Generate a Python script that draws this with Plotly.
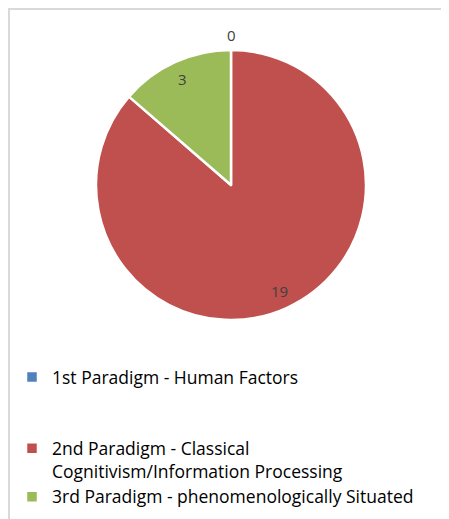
import math
import plotly.graph_objects as go

labels = [
    "1st Paradigm - Human Factors",
    "2nd Paradigm - Classical<br>Cognitivism/Information Processing",
    "3rd Paradigm - phenomenologically Situated",
]
values = [0, 19, 3]
colors = ["#4F81BD", "#C0504D", "#9BBB59"]

# page is shown with an 8px body margin: positions below are paper pixels
W, H = 449, 519
cx, cy, r = 223, 177, 135

# legend spacing lines (blank lines appended to entries to mimic the spacing)
legend_labels = [labels[0] + "<br> <br> ", labels[1], labels[2]]

fig = go.Figure()
fig.add_trace(go.Pie(
    labels=legend_labels,
    values=values,
    sort=False,
    direction="clockwise",
    rotation=0,
    marker=dict(colors=colors, line=dict(color="white", width=2.5)),
    textinfo="none",
    domain=dict(x=[(cx - r) / W, (cx + r) / W], y=[1 - (cy + r) / H, 1 - (cy - r) / H]),
    hoverinfo="value",
))

# data labels placed along each slice's mid angle
total = sum(values)
annotations = []
cum = 0
for v in values:
    mid = (cum + v / 2) / total * 2 * math.pi
    cum += v
    rr = r * (1.11 if v == 0 else 0.86)
    px = cx + rr * math.sin(mid)
    py = cy - rr * math.cos(mid)
    annotations.append(dict(
        x=px / W, y=1 - py / H, xref="paper", yref="paper",
        text=str(v), showarrow=False, xanchor="center", yanchor="middle",
        font=dict(family="Open Sans", size=15, color="#404040"),
    ))

fig.update_layout(
    width=W, height=H,
    margin=dict(l=0, r=0, t=0, b=0),
    paper_bgcolor="white",
    font=dict(family="Open Sans", color="#000000"),
    showlegend=True,
    legend=dict(
        x=4 / W, y=1 - 351 / H, xanchor="left", yanchor="top",
        orientation="v",
        font=dict(family="Open Sans", size=17.5, color="#000000"),
        valign="top",
        bgcolor="rgba(0,0,0,0)",
    ),
    annotations=annotations,
    shapes=[dict(type="rect", xref="paper", yref="paper",
                 x0=1 / W, x1=1.05, y0=-0.05, y1=1 - 1 / H,
                 line=dict(color="#D9D9D9", width=2))],
)

fig.write_html("out.html")
